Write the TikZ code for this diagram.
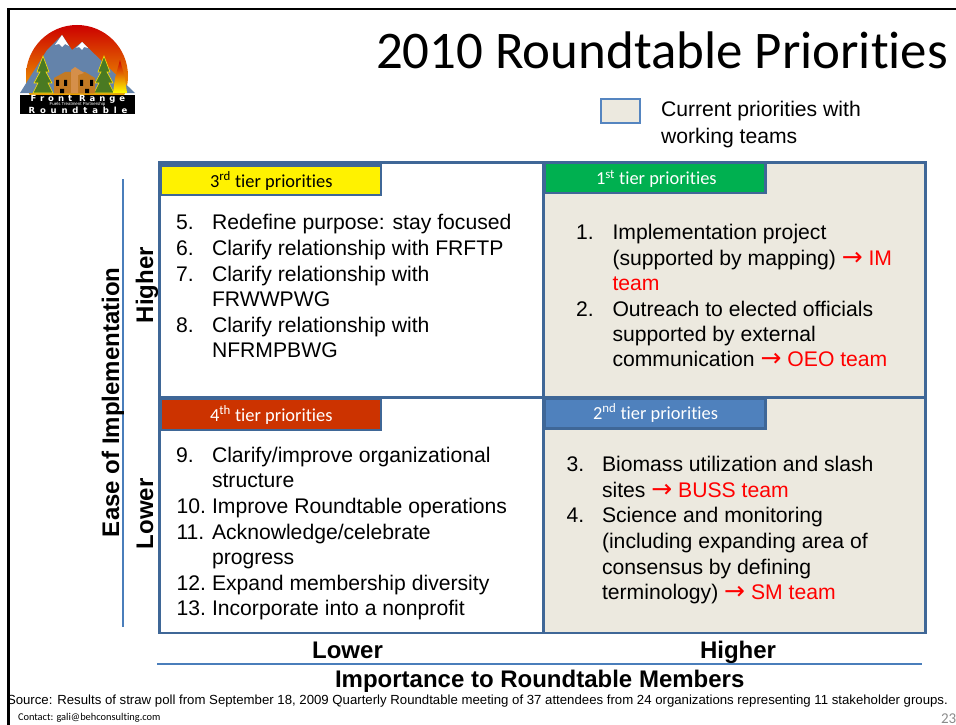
\documentclass[tikz,border=0pt]{standalone}
\usepackage{fontspec}
\setmainfont{Liberation Sans}
\newfontfamily\calfont[Ligatures=NoCommon]{Carlito}
\newfontfamily\arrowfont{DejaVu Sans}
\newfontfamily\logofront[LetterSpace=47]{DejaVu Sans}
\newfontfamily\logoround[LetterSpace=57]{DejaVu Sans}
\definecolor{gridblue}{HTML}{3F6797}
\definecolor{axisblue}{HTML}{4A7EBB}
\definecolor{beige}{HTML}{ECE9DF}
\definecolor{legblue}{HTML}{5585C0}
\definecolor{tierred}{HTML}{CC3300}
\definecolor{tiergreen}{HTML}{00B050}
\definecolor{tierblue}{HTML}{4F81BD}
\definecolor{teamred}{HTML}{FF0000}
\definecolor{pagenum}{HTML}{8B8B8B}
\definecolor{mtn}{HTML}{6483AA}
\definecolor{treegreen}{HTML}{4A7A22}
\definecolor{housebr}{HTML}{C27A24}
\definecolor{housebk}{HTML}{D58F4A}
\tikzset{
  x=1pt,y=-1pt,
  txt/.style={anchor=base west,inner sep=0pt,outer sep=0pt,text=black},
  body/.style={txt,font=\fontsize{21.15}{26}\selectfont},
  boldlbl/.style={txt,font=\fontsize{24}{28}\selectfont\bfseries},
  tiertxt/.style={txt,font=\calfont\fontsize{18.4}{21}\selectfont},
  panel/.style={draw=gridblue,line width=2.2pt},
  tierbox/.style={draw=gridblue,line width=2.2pt},
  axisline/.style={draw=axisblue,line width=1.6pt},
  logotxt/.style={inner sep=0pt,text=white},
}
\newcommand{\team}[1]{\textcolor{teamred}{{\arrowfont\fontsize{25}{26}\selectfont →} #1}}
\begin{document}
\begin{tikzpicture}
\useasboundingbox (0,0) rectangle (956,725);
% frame
\draw[black,line width=2.5pt] (8.5,725) -- (8.5,9) -- (956,9);
% title
\node[txt,font=\calfont\fontsize{52.9}{60}\selectfont] (title) at (376,68.5) {2010 Roundtable Priorities};
% logo
\begin{scope}
\clip (20,25) rectangle (135,94);
\shade[top color=red!80!black,middle color=orange,bottom color=yellow!85!orange] (77,76) circle (51);
\fill[mtn] (20,93) -- (47,50) -- (62,35) -- (72,50) -- (82,42) -- (135,93) -- cycle;
\fill[white] (55,45) -- (62,35) -- (69,46) -- (65,44) -- (62,47) -- (59,44) -- cycle;
\fill[white] (76,48) -- (82,42) -- (88,48) -- (84,47) -- (82,50) -- (79,47) -- cycle;
\end{scope}
\foreach \tx in {43,104}{
  \fill[treegreen,draw=yellow!80!orange,line width=.6pt]
    (\tx,56) -- (\tx+6,72) -- (\tx+3,72) -- (\tx+9,83) -- (\tx+5,83) -- (\tx+10,93) -- (\tx-10,93) -- (\tx-5,83) -- (\tx-9,83) -- (\tx-3,72) -- (\tx-6,72) -- cycle;
}
\shade[top color=red!80!black,bottom color=yellow] (120,60) -- (125,78) -- (127,93) -- (113,93) -- (115,78) -- cycle;
\fill[housebr] (54,93) -- (54,78) -- (65,72) -- (85,72) -- (95,78) -- (95,93) -- cycle;
\fill[housebk] (71,93) -- (71,70) -- (75,67) -- (84,73) -- (78,75) -- (78,93) -- cycle;
\fill[black] (56,80) rectangle (59,86) (64,80) rectangle (67,86) (80,80) rectangle (83,86) (90,80) rectangle (93,86) (60,89) rectangle (64,93) (85,89) rectangle (89,93);
\fill[black] (20,94.5) rectangle (135,113.5);
\node[logotxt,font=\logofront\fontsize{8.5}{9}\selectfont\bfseries] (logoa) at (78,99) {Front Range};
\node[logotxt,font=\fontsize{4.4}{5}\selectfont] (logoc) at (77.5,104.3) {Fuels Treatment Partnership};
\node[logotxt,font=\logoround\fontsize{8.5}{9}\selectfont\bfseries] (logob) at (78,110) {Roundtable};
% legend
\draw[draw=legblue,fill=beige,line width=2.5pt] (601,99) rectangle (640,123);
\node[body] (leg1) at (661,117) {Current priorities with};
\node[body] (leg2) at (661,143) {working teams};
% panels
\filldraw[panel,fill=white] (159.5,162.5) rectangle (543.5,397.5);
\filldraw[panel,fill=white] (159.5,397.5) rectangle (543.5,633);
\filldraw[panel,fill=beige] (543.5,162.5) rectangle (925.5,397.5);
\filldraw[panel,fill=beige] (543.5,397.5) rectangle (925.5,633);
\draw[gridblue,line width=3.5pt] (543.5,162) -- (543.5,634);
% tier boxes
\filldraw[tierbox,fill=yellow] (161,165.5) rectangle (381,195);
\filldraw[tierbox,fill=tierred] (161,399) rectangle (381,430);
\filldraw[tierbox,fill=tiergreen] (545,162.5) rectangle (765.5,193);
\filldraw[tierbox,fill=tierblue] (545,398.5) rectangle (765.5,428.5);
\node[tiertxt] (t3) at (210,187) {3\textsuperscript{rd} tier priorities};
\node[tiertxt,text=white] (t4) at (210,421) {4\textsuperscript{th} tier priorities};
\node[tiertxt,text=white] (t1) at (596,184.5) {1\textsuperscript{st} tier priorities};
\node[tiertxt,text=white] (t2) at (593,419) {2\textsuperscript{nd} tier priorities};
% upper left list
\node[body] (n5) at (176,229) {5.};  \node[body] (l5) at (212,229) {Redefine purpose: stay focused};
\node[body] (n6) at (176,255) {6.};  \node[body] (l6) at (212,255) {Clarify relationship with FRFTP};
\node[body] (n7) at (176,281) {7.};  \node[body] (l7) at (212,281) {Clarify relationship with};
\node[body] (l7b) at (212,306.5) {FRWWPWG};
\node[body] (n8) at (176,332) {8.};  \node[body] (l8) at (212,332) {Clarify relationship with};
\node[body] (l8b) at (212,357.5) {NFRMPBWG};
% lower left list
\node[body] (n9) at (176,462) {9.};  \node[body] (l9) at (212,462) {Clarify/improve organizational};
\node[body] (l9b) at (212,487.5) {structure};
\node[body] (n10) at (176.5,513) {10.}; \node[body] (l10) at (212,513) {Improve Roundtable operations};
\node[body] (n11) at (176.5,539) {11.}; \node[body] (l11) at (212,539) {Acknowledge/celebrate};
\node[body] (l11b) at (212,564.5) {progress};
\node[body] (n12) at (176.5,590) {12.}; \node[body] (l12) at (212,590) {Expand membership diversity};
\node[body] (n13) at (176.5,615.5) {13.}; \node[body] (l13) at (212,615.5) {Incorporate into a nonprofit};
% upper right list
\node[body] (n1) at (576,239) {1.}; \node[body] (r1) at (612.5,239) {Implementation project};
\node[body] (r1b) at (612.5,265) {(supported by mapping) \team{IM}};
\node[body,text=teamred] (r1c) at (612.5,290) {team};
\node[body] (n2) at (576,316) {2.}; \node[body] (r2) at (612.5,316) {Outreach to elected officials};
\node[body] (r2b) at (612.5,341) {supported by external};
\node[body] (r2c) at (612.5,366.5) {communication \team{OEO team}};
% lower right list
\node[body] (n3) at (566.5,471.5) {3.}; \node[body] (r3) at (602,471.5) {Biomass utilization and slash};
\node[body] (r3b) at (602,497) {sites \team{BUSS team}};
\node[body] (n4) at (566.5,522.5) {4.}; \node[body] (r4) at (602,522.5) {Science and monitoring};
\node[body] (r4b) at (602,548) {(including expanding area of};
\node[body] (r4c) at (602,574) {consensus by defining};
\node[body] (r4d) at (602,599) {terminology) \team{SM team}};
% axes
\coordinate (va) at (123,179); \coordinate (vb) at (123,627);
\coordinate (ha) at (157,664); \coordinate (hb) at (922,664);
\draw[axisline] (va) -- (vb);
\draw[axisline] (ha) -- (hb);
\node[boldlbl,rotate=90] (ease) at (119,537) {Ease of Implementation};
\node[boldlbl,rotate=90] (higher) at (153,323) {Higher};
\node[boldlbl,rotate=90] (lower) at (153,549) {Lower};
\node[boldlbl,anchor=base] (xlow) at (347.5,658) {Lower};
\node[boldlbl,anchor=base] (xhigh) at (738,658) {Higher};
\node[boldlbl] (imp) at (335,687) {Importance to Roundtable Members};
% footer
\node[txt,font=\fontsize{13.2}{15}\selectfont] (src) at (7,704) {Source: Results of straw poll from September 18, 2009 Quarterly Roundtable meeting of 37 attendees from 24 organizations representing 11 stakeholder groups.};
\node[txt,font=\calfont\fontsize{10.4}{12}\selectfont] (contact) at (18,720.5) {Contact: gali@behconsulting.com};
\node[txt,text=pagenum,font=\calfont\fontsize{15}{17}\selectfont] (pg) at (941,723) {23};
\end{tikzpicture}
\end{document}
